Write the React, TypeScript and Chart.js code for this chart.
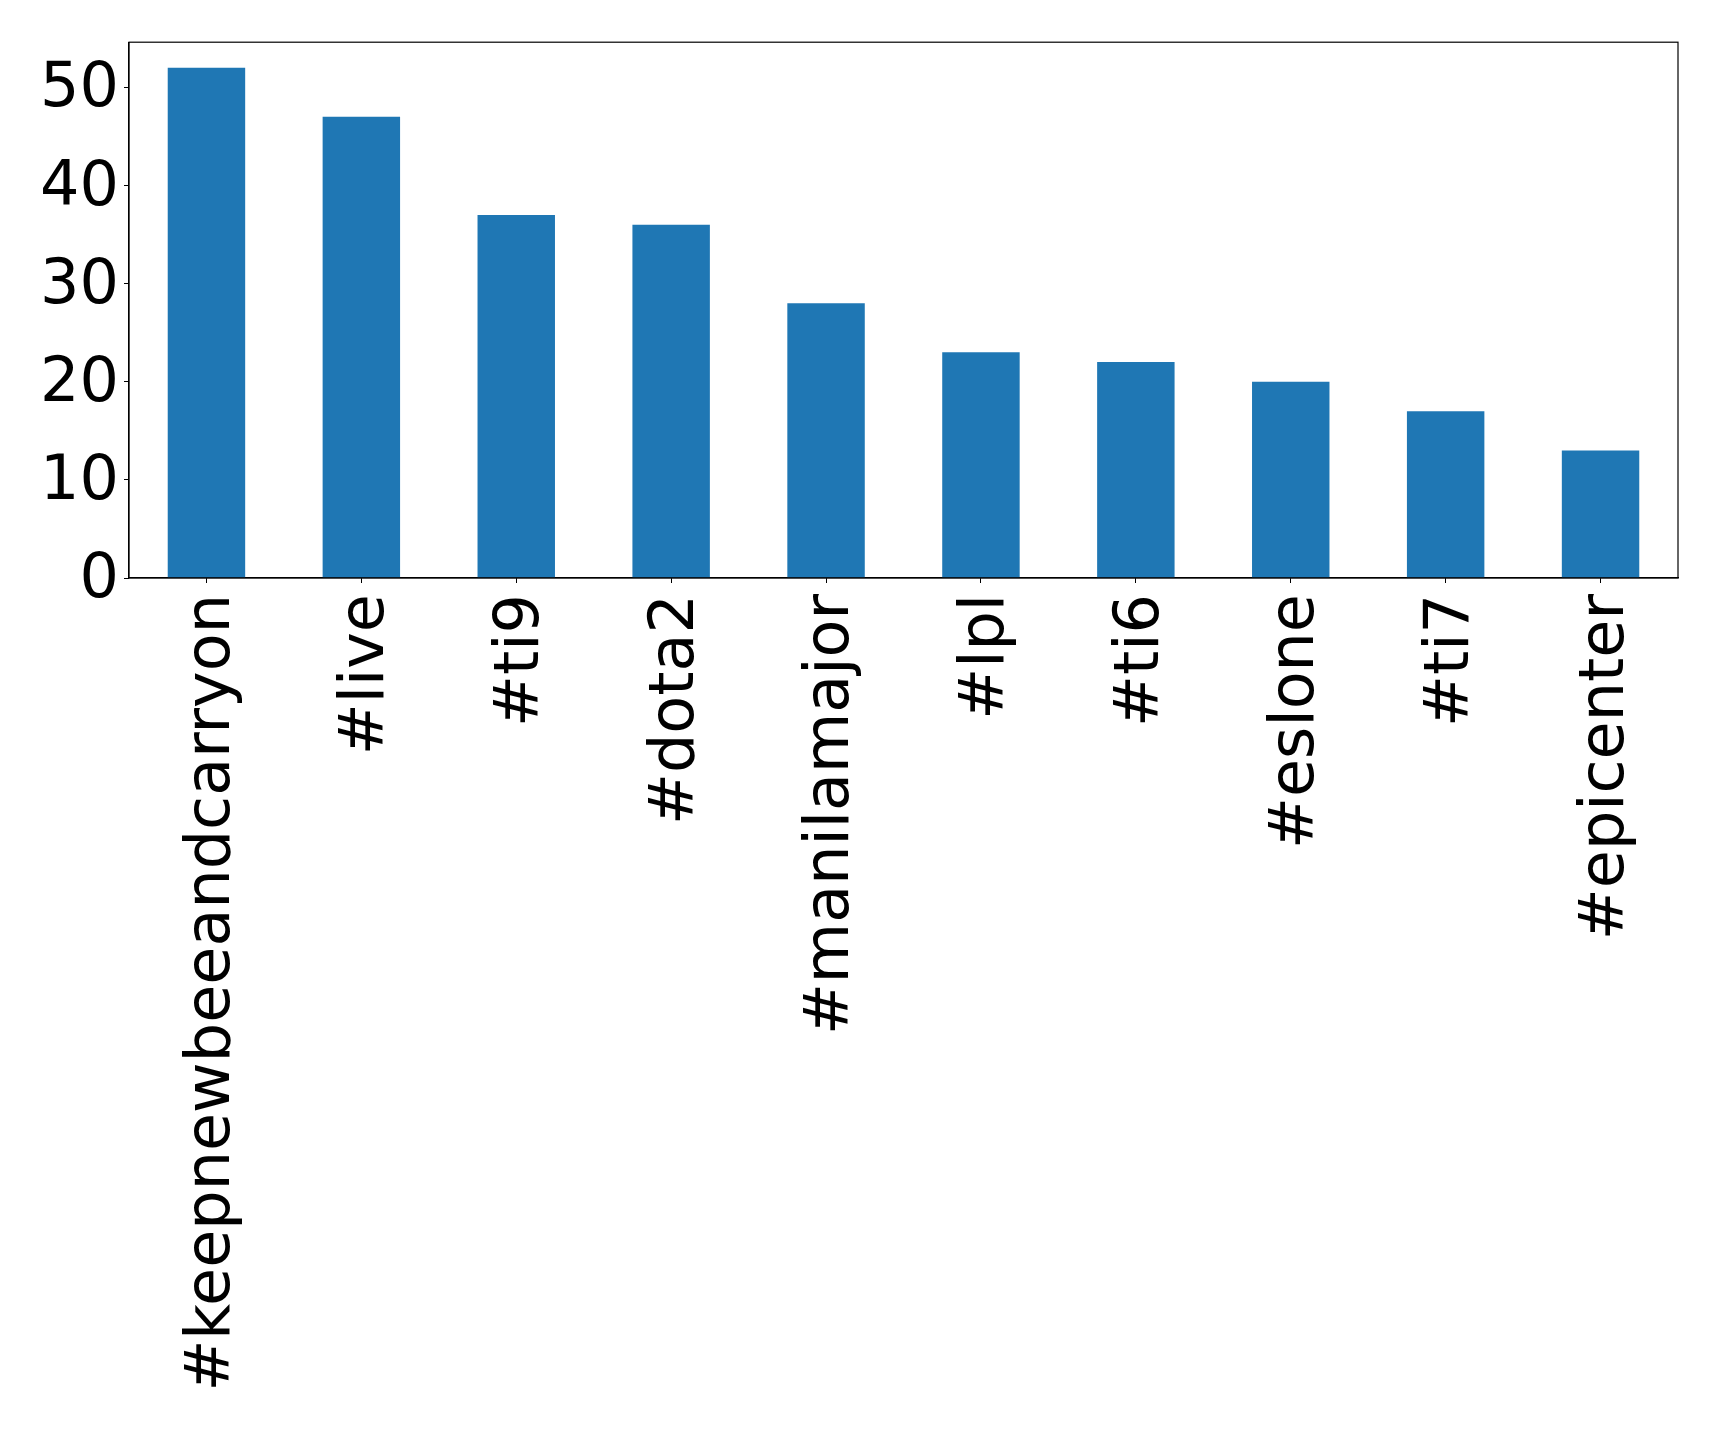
import React, { useEffect, useRef } from "react";
import { Chart, registerables } from "chart.js";

Chart.register(...registerables);

const categories = [
  "#keepnewbeeandcarryon",
  "#live",
  "#ti9",
  "#dota2",
  "#manilamajor",
  "#lpl",
  "#ti6",
  "#eslone",
  "#ti7",
  "#epicenter",
];
const counts = [52, 47, 37, 36, 28, 23, 22, 20, 17, 13];
const yTicks = [0, 10, 20, 30, 40, 50];
const yMax = 54.6;

const W = 1719;
const H = 1432;
const FONT = "'DejaVu Sans', sans-serif";

const frame = {
  id: "frame",
  afterDraw(chart: any) {
    const { ctx, chartArea } = chart;
    ctx.save();
    ctx.strokeStyle = "#000";
    ctx.lineWidth = 1.2;
    ctx.strokeRect(chartArea.left, chartArea.top, chartArea.right - chartArea.left, chartArea.bottom - chartArea.top);
    ctx.restore();
  },
};

export default function App() {
  const ref = useRef<HTMLCanvasElement>(null);
  useEffect(() => {
    if (!ref.current) return;
    const chart = new Chart(ref.current, {
      type: "bar",
      data: {
        labels: categories,
        datasets: [
          {
            data: counts,
            backgroundColor: "#1f77b4",
            borderWidth: 0,
            categoryPercentage: 0.5,
            barPercentage: 1.0,
          },
        ],
      },
      options: {
        animation: false,
        responsive: false,
        devicePixelRatio: 1,
        layout: { padding: { top: 38, right: 41, left: 0, bottom: 0 } },
        plugins: { legend: { display: false }, tooltip: { enabled: false }, title: { display: false } },
        scales: {
          x: {
            offset: true,
            grid: { display: true, offset: false, drawOnChartArea: false, drawTicks: true, tickLength: 5, color: "#000", lineWidth: 1 },
            border: { display: true, color: "#000", width: 1.2 },
            ticks: {
              autoSkip: false,
              maxRotation: 90,
              minRotation: 90,
              padding: 11,
              labelOffset: 6,
              color: "#000",
              font: { family: FONT, size: 62 },
            },
            afterFit(scale: any) {
              scale.height = H - 578;
            },
          },
          y: {
            min: 0,
            max: yMax,
            grid: { display: true, drawOnChartArea: false, drawTicks: true, tickLength: 5, color: "#000", lineWidth: 1 },
            border: { display: true, color: "#000", width: 1.2 },
            ticks: {
              stepSize: 10,
              padding: 5,
              labelOffset: 3,
              color: "#000",
              font: { family: FONT, size: 62 },
            },
            afterBuildTicks(scale: any) {
              scale.ticks = yTicks.map((v) => ({ value: v }));
            },
            afterFit(scale: any) {
              scale.width = 129;
            },
          },
        },
      },
      plugins: [frame],
    });
    return () => chart.destroy();
  }, []);
  return (
    <div style={{ position: "fixed", left: 0, top: 0, width: W, height: H, background: "#fff" }}>
      <canvas ref={ref} width={W} height={H} style={{ display: "block" }} />
    </div>
  );
}
